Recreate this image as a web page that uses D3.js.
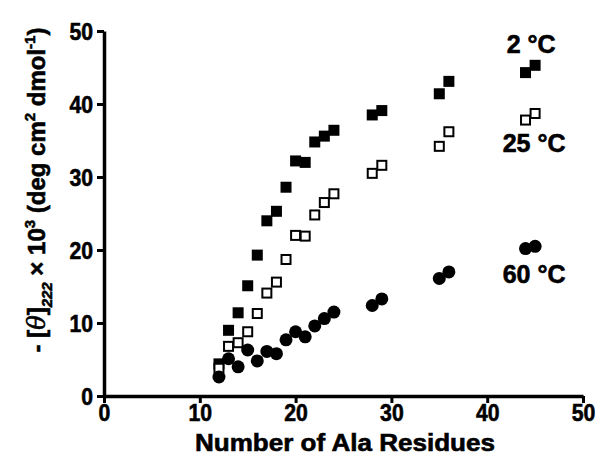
<!DOCTYPE html>
<html><head><meta charset="utf-8">
<script src="https://cdn.jsdelivr.net/npm/d3@7"></script>
<style>
html,body{margin:0;padding:0;background:#fff;}
svg{display:block;}
.h{font-family:"Liberation Sans",Arial,sans-serif;font-weight:bold;fill:#000;stroke:#000;stroke-width:0.6;}
</style></head><body>
<svg id="c" width="603" height="458"></svg>
<script>
const ticks = [0, 10, 20, 30, 40, 50];
const ala2 = [12,13,14,15,16,17,18,19,20,21,22,23,24,28,29,35,36,44,45];
const val2 = [4.4,9.0,11.4,15.1,19.3,24.0,25.3,28.6,32.2,32.0,34.8,35.6,36.4,38.5,39.1,41.4,43.1,44.3,45.3];
const ala25 = [12,13,14,15,16,17,18,19,20,21,22,23,24,28,29,35,36,44,45];
const val25 = [3.8,6.8,7.3,8.8,11.3,14.1,15.6,18.7,22.0,21.9,24.8,26.5,27.7,30.5,31.6,34.2,36.2,37.8,38.7];
const ala60 = [12,13,14,15,16,17,18,19,20,21,22,23,24,28,29,35,36,44,45];
const val60 = [2.6,5.1,4.0,6.3,4.8,6.1,5.8,7.7,8.8,8.1,9.6,10.6,11.5,12.4,13.3,16.1,17.0,20.2,20.5];
const seriesLabels = ["2 °C", "25 °C", "60 °C"];

const svg = d3.select("#c");
const x = d3.scaleLinear().domain([0,50]).range([104,583]);
const y = d3.scaleLinear().domain([0,50]).range([396,31]);

// axes
const xAxis = d3.axisBottom(x).tickValues(ticks).tickSize(7).tickSizeOuter(0).tickPadding(1);
const yAxis = d3.axisLeft(y).tickValues(ticks).tickSize(7).tickSizeOuter(0).tickPadding(4);
const gx = svg.append("g").attr("transform","translate(0,396)").call(xAxis);
const gy = svg.append("g").attr("transform","translate(104,0)").call(yAxis);
[gx,gy].forEach(g=>{
  g.select(".domain").attr("stroke","#000").attr("stroke-width",3.5);
  g.selectAll(".tick line").attr("stroke","#000").attr("stroke-width",3);
  g.selectAll(".tick text").attr("class","h").attr("font-size",24).attr("fill","#000")
    .attr("textLength",d=>String(d).length*11.8).attr("lengthAdjust","spacingAndGlyphs");
});
gx.selectAll(".tick text").attr("dy","0.72em");
gy.selectAll(".tick text").attr("dy","0.36em");

// titles
svg.append("text").attr("class","h").attr("x",345).attr("y",451)
  .attr("text-anchor","middle").attr("font-size",24)
  .attr("textLength",300).attr("lengthAdjust","spacingAndGlyphs")
  .text("Number of Ala Residues");

const yl = svg.append("text").attr("class","h").attr("font-size",24)
  .attr("text-anchor","middle")
  .attr("transform","translate(45,190) rotate(-90)");
yl.append("tspan").text("- [");
yl.append("tspan").attr("font-style","italic").attr("font-family","DejaVu Serif,serif").attr("font-weight","normal").text("θ");
yl.append("tspan").text("]");
yl.append("tspan").attr("font-size",15).attr("font-style","italic").attr("dy",7).text("222");
yl.append("tspan").attr("dy",-7).text(" × 10");
yl.append("tspan").attr("font-size",15).attr("dy",-10).text("3");
yl.append("tspan").attr("dy",10).text(" (deg cm");
yl.append("tspan").attr("font-size",15).attr("dy",-10).text("2");
yl.append("tspan").attr("dy",10).text(" dmol");
yl.append("tspan").attr("font-size",15).attr("dy",-10).text("-1");
yl.append("tspan").attr("dy",10).text(")");

// markers
const s = 11;
svg.append("g").selectAll("rect").data(ala2.map((a,i)=>[a,val2[i]])).join("rect")
  .attr("x",d=>x(d[0])-s/2).attr("y",d=>y(d[1])-s/2).attr("width",s).attr("height",s)
  .attr("fill","#000");
svg.append("g").selectAll("rect").data(ala25.map((a,i)=>[a,val25[i]])).join("rect")
  .attr("x",d=>x(d[0])-s/2+1).attr("y",d=>y(d[1])-s/2+1).attr("width",s-2).attr("height",s-2)
  .attr("fill","#fff").attr("stroke","#000").attr("stroke-width",2);
svg.append("g").selectAll("circle").data(ala60.map((a,i)=>[a,val60[i]])).join("circle")
  .attr("cx",d=>x(d[0])).attr("cy",d=>y(d[1])).attr("r",6.5).attr("fill","#000");

// series labels
const lblPos = [[45,47.0],[45,33.4],[45,15.5]];
svg.append("g").selectAll("text").data(seriesLabels).join("text")
  .attr("class","h").attr("font-size",25).attr("text-anchor","middle")
  .attr("x",(d,i)=>x(lblPos[i][0])-(i===0?4:1)).attr("y",(d,i)=>y(lblPos[i][1]))
  .text(d=>d);
</script>
</body></html>
